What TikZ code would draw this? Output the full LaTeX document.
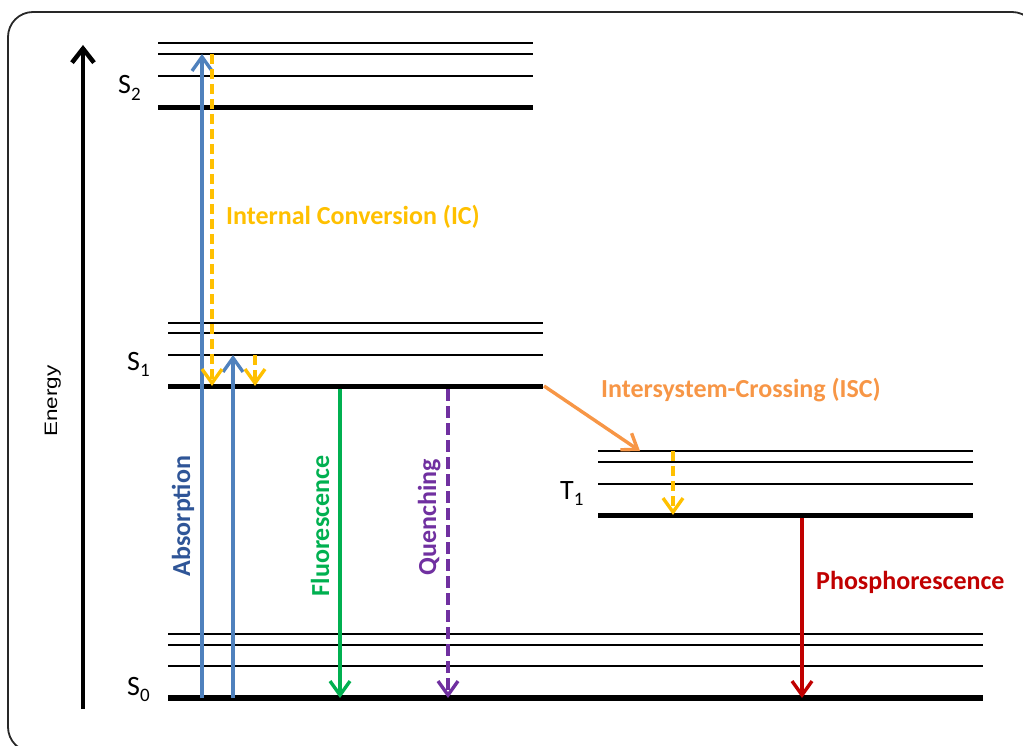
\documentclass[tikz,border=0pt]{standalone}
\usepackage{fontspec}
\usepackage{graphicx}
\setmainfont{Carlito}
\newfontfamily\axisfont{Liberation Sans}
\usetikzlibrary{arrows.meta}

\definecolor{absblue}{RGB}{79,129,189}
\definecolor{absdark}{RGB}{47,85,151}
\definecolor{icyellow}{RGB}{255,192,0}
\definecolor{fluogreen}{RGB}{0,176,80}
\definecolor{quenchpurple}{RGB}{112,48,160}
\definecolor{phosred}{RGB}{192,0,0}
\definecolor{iscorange}{RGB}{247,150,70}
\definecolor{framegray}{RGB}{40,40,40}

\newcommand{\statelabel}[2]{#1\raisebox{-0.22em}{\fontsize{19}{19}\selectfont #2}}

\begin{document}
\begin{tikzpicture}[x=1pt,y=-1pt,
  sublevel/.style={line width=1.6pt, black},
  groundlevel/.style={line width=5.5pt, black},
  transition/.style={line width=3.4pt, -{Straight Barb[length=14pt,width=20pt]}},
  relax/.style={transition, icyellow, dash pattern=on 10pt off 5pt},
  procname/.style={font=\bfseries\fontsize{26}{30}\selectfont, inner sep=0pt},
  statename/.style={font=\fontsize{28}{32}\selectfont, inner sep=0pt, anchor=base west},
]
\useasboundingbox (0,0) rectangle (1023,746);

% outer frame, running off the right and bottom edges
\begin{scope}
  \clip (0,0) rectangle (1023,746);
  \draw[framegray, line width=1.8pt, rounded corners=25pt] (8,12) rectangle (1037,752);
\end{scope}

% energy axis
\coordinate (axisFoot) at (83,709);
\coordinate (axisHead) at (83,45);
\draw[line width=4.5pt, -{Straight Barb[length=14pt,width=22pt]}] (axisFoot) -- (axisHead);
\node[rotate=90, anchor=base, inner sep=0pt, font=\axisfont\fontsize{18}{20}\selectfont] (energyLabel) at (57,401) {\scalebox{1.25}[1]{Energy}};

% S2 manifold
\draw[sublevel] (158,43) -- (533,43);
\draw[sublevel] (158,54) -- (533,54);
\draw[sublevel] (158,76) -- (533,76);
\draw[groundlevel] (158,107.5) -- (533,107.5);
\node[statename] (s2Label) at (118,94) {\statelabel{S}{2}};

% S1 manifold
\draw[sublevel] (168,323) -- (543,323);
\draw[sublevel] (168,333) -- (543,333);
\draw[sublevel] (168,355) -- (543,355);
\draw[groundlevel] (168,386.5) -- (543,386.5);
\node[statename] (s1Label) at (127,370) {\statelabel{S}{1}};

% T1 manifold
\draw[sublevel] (598,451) -- (973,451);
\draw[sublevel] (598,462) -- (973,462);
\draw[sublevel] (598,484) -- (973,484);
\draw[groundlevel] (598,515.5) -- (973,515.5);
\node[statename] (t1Label) at (560,499) {\statelabel{T}{1}};

% S0 manifold
\draw[sublevel] (168,634) -- (983,634);
\draw[sublevel] (168,645) -- (983,645);
\draw[sublevel] (168,666) -- (983,666);
\draw[groundlevel] (168,698) -- (983,698);
\node[statename] (s0Label) at (127,695) {\statelabel{S}{0}};

% transition end points
\coordinate (absLongFrom) at (202,698);
\coordinate (absLongTo) at (202,54);
\coordinate (absShortFrom) at (233,698);
\coordinate (absShortTo) at (233,355);
\coordinate (icLongFrom) at (212,54);
\coordinate (icLongTo) at (212,386);
\coordinate (icShortFrom) at (255,355);
\coordinate (icShortTo) at (255,386);
\coordinate (fluoFrom) at (340,389);
\coordinate (fluoTo) at (340,698);
\coordinate (quenchFrom) at (448,389);
\coordinate (quenchTo) at (448,698);
\coordinate (iscFrom) at (544,386);
\coordinate (iscTo) at (640,451);
\coordinate (icTripFrom) at (673,451);
\coordinate (icTripTo) at (673,515);
\coordinate (phosFrom) at (802,518);
\coordinate (phosTo) at (802,698);

% absorption
\draw[transition, absblue] (absLongFrom) -- (absLongTo);
\draw[transition, absblue] (absShortFrom) -- (absShortTo);

% internal conversion
\draw[relax] (icLongFrom) -- (icLongTo);
\draw[relax] (icShortFrom) -- (icShortTo);
\draw[relax] (icTripFrom) -- (icTripTo);

% radiative and non-radiative decay
\draw[transition, fluogreen] (fluoFrom) -- (fluoTo);
\draw[transition, quenchpurple, dash pattern=on 12pt off 5pt] (quenchFrom) -- (quenchTo);
\draw[transition, phosred] (phosFrom) -- (phosTo);

% intersystem crossing
\draw[transition, iscorange] (iscFrom) -- (iscTo);

% process names
\node[procname, text=icyellow, anchor=base west] (icLabel) at (226,225) {Internal Conversion (IC)};
\node[procname, text=iscorange, anchor=base west] (iscLabel) at (601,397) {Intersystem-Crossing (ISC)};
\node[procname, text=phosred, anchor=base west] (phosLabel) at (816,589) {Phosphorescence};
\node[procname, text=absdark, rotate=90, anchor=base] (absLabel) at (190,516) {Absorption};
\node[procname, text=fluogreen, rotate=90, anchor=base] (fluoLabel) at (329,526) {Fluorescence};
\node[procname, text=quenchpurple, rotate=90, anchor=base] (quenchLabel) at (436,517) {Quenching};
\end{tikzpicture}
\end{document}
